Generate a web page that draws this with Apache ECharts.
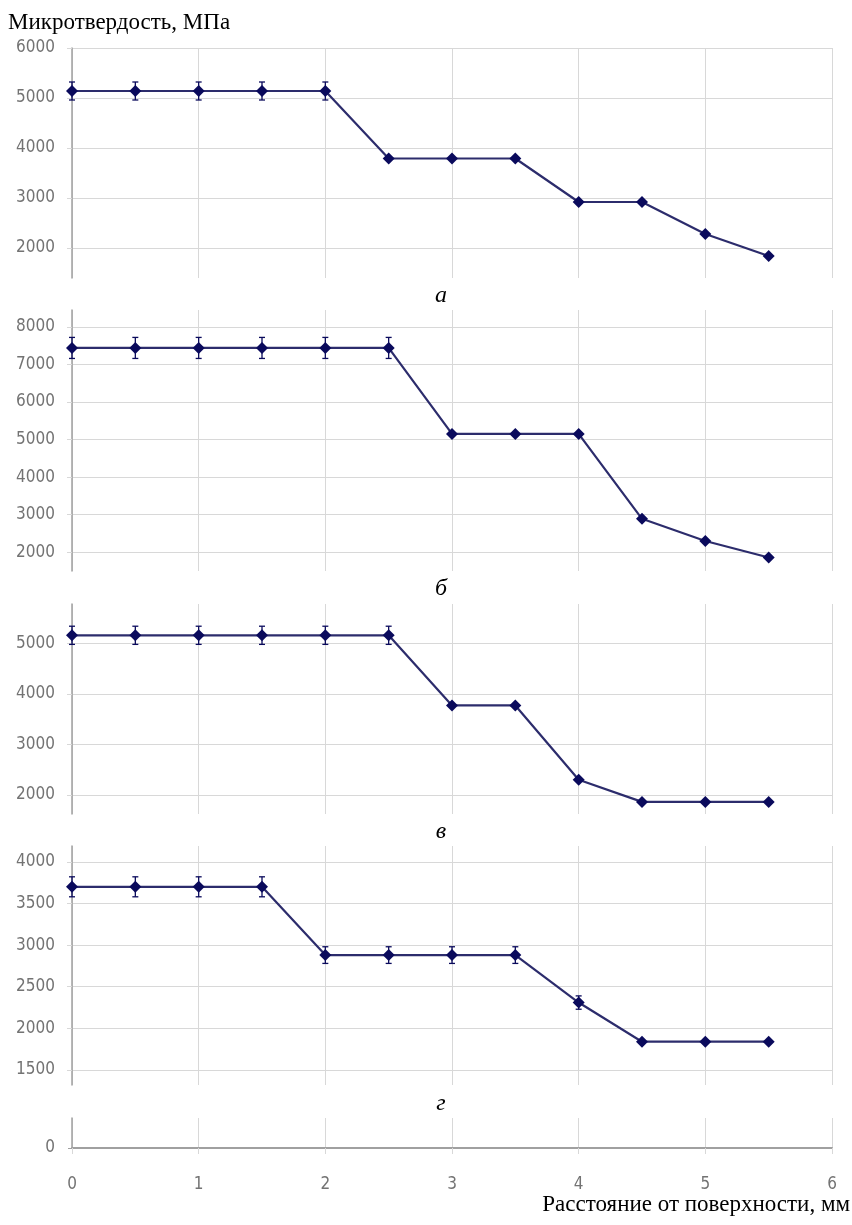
<!DOCTYPE html>
<html>
<head>
<meta charset="utf-8">
<script src="https://cdn.jsdelivr.net/npm/echarts@6/dist/echarts.min.js"></script>
<style>html,body{margin:0;padding:0;background:#fff;}#c{width:852px;height:1225px;}</style>
</head>
<body>
<div id="c"></div>
<script>
// ---- data ----
const distances = [0, 0.5, 1, 1.5, 2, 2.5, 3, 3.5, 4, 4.5, 5, 5.5];
const panelA = [5140, 5140, 5140, 5140, 5140, 3790, 3790, 3790, 2920, 2920, 2280, 1840];
const panelB = [7440, 7440, 7440, 7440, 7440, 7440, 5150, 5150, 5150, 2890, 2300, 1860];
const panelC = [5160, 5160, 5160, 5160, 5160, 5160, 3770, 3770, 2300, 1860, 1860, 1860];
const panelD = [3700, 3700, 3700, 3700, 2880, 2880, 2880, 2880, 2310, 1840, 1840, 1840];
const errA = [180, 180, 180, 180, 180, 0, 0, 0, 0, 0, 0, 0];
const errB = [280, 280, 280, 280, 280, 280, 0, 0, 0, 0, 0, 0];
const errC = [180, 180, 180, 180, 180, 180, 0, 0, 0, 0, 0, 0];
const errD = [120, 120, 120, 120, 100, 100, 100, 100, 80, 0, 0, 0];
const ticksA = [2000, 3000, 4000, 5000, 6000];
const ticksB = [2000, 3000, 4000, 5000, 6000, 7000, 8000];
const ticksC = [2000, 3000, 4000, 5000];
const ticksD = [1500, 2000, 2500, 3000, 3500, 4000];
const ticksBottom = [0];
const xTicks = [0, 1, 2, 3, 4, 5, 6];
const panelLabels = ['а', 'б', 'в', 'г'];
const yTitle = 'Микротвердость, МПа';
const xTitle = 'Расстояние от поверхности, мм';

// ---- layout / style ----
const panels = [
  { vals: panelA, err: errA, ticks: ticksA, min: 1400, max: 6000, top: 48, height: 230, labelY: 296 },
  { vals: panelB, err: errB, ticks: ticksB, min: 1500, max: 8450, top: 310, height: 261, labelY: 589 },
  { vals: panelC, err: errC, ticks: ticksC, min: 1620, max: 5780, top: 604, height: 210, labelY: 832 },
  { vals: panelD, err: errD, ticks: ticksD, min: 1320, max: 4190, top: 846, height: 239, labelY: 1104 }
];
const LEFT = 72, RIGHT = 20;
const gridColor = '#d8d8d8';
const axisColor = '#a0a0a0';
const plain = v => String(v);
const labelFont = { color: '#737373', fontSize: 17, fontFamily: '"DejaVu Sans Condensed", "Liberation Sans Narrow", "DejaVu Sans", sans-serif', formatter: plain };
const lineColor = '#2c2c6c';
const markColor = '#0a0a5c';

const grids = [], xAxes = [], yAxes = [], series = [];
panels.forEach((p, i) => {
  grids.push({ left: LEFT, right: RIGHT, top: p.top, height: p.height, outerBoundsMode: 'none', containLabel: false });
  xAxes.push({
    type: 'value', gridIndex: i, min: 0, max: 6, interval: 1,
    axisLine: { show: false }, axisTick: { show: false }, axisLabel: { show: false },
    splitLine: { show: true, lineStyle: { color: gridColor, width: 1 } }
  });
  yAxes.push({
    type: 'value', gridIndex: i, min: p.min, max: p.max,
    axisLine: { show: true, lineStyle: { color: axisColor, width: 1.5 } },
    axisTick: { show: true, length: 5, customValues: p.ticks, lineStyle: { color: gridColor } },
    axisLabel: Object.assign({ show: true, margin: 17, customValues: p.ticks }, labelFont),
    splitLine: { show: true, lineStyle: { color: gridColor, width: 1 } }
  });
  series.push({
    type: 'custom', xAxisIndex: i, yAxisIndex: i, z: 2, silent: true,
    data: distances.map((x, k) => [x, p.vals[k], p.err[k]]).filter(d => d[2] > 0),
    encode: { x: 0, y: 1 },
    renderItem: (params, api) => {
      const x = api.value(0), y = api.value(1), e = api.value(2);
      const hi = api.coord([x, y + e]), lo = api.coord([x, y - e]);
      const w = 3;
      const st = { stroke: markColor, lineWidth: 1.3 };
      return { type: 'group', children: [
        { type: 'line', shape: { x1: hi[0], y1: hi[1], x2: lo[0], y2: lo[1] }, style: st },
        { type: 'line', shape: { x1: hi[0] - w, y1: hi[1], x2: hi[0] + w, y2: hi[1] }, style: st },
        { type: 'line', shape: { x1: lo[0] - w, y1: lo[1], x2: lo[0] + w, y2: lo[1] }, style: st }
      ] };
    }
  });
  series.push({
    type: 'line', xAxisIndex: i, yAxisIndex: i, z: 3, silent: true,
    data: distances.map((x, k) => [x, p.vals[k]]),
    symbol: 'diamond', symbolSize: 12,
    lineStyle: { color: lineColor, width: 2.2 },
    itemStyle: { color: markColor }
  });
});
// bottom axis panel
grids.push({ left: LEFT, right: RIGHT, top: 1118, height: 30, outerBoundsMode: 'none', containLabel: false });
xAxes.push({
  type: 'value', gridIndex: 4, min: 0, max: 6, interval: 1,
  axisLine: { show: true, lineStyle: { color: axisColor, width: 2 } },
  axisTick: { show: true, length: 6, lineStyle: { color: gridColor } },
  axisLabel: Object.assign({ show: true, margin: 28, customValues: xTicks }, labelFont),
  splitLine: { show: true, lineStyle: { color: gridColor, width: 1 } }
});
yAxes.push({
  type: 'value', gridIndex: 4, min: 0, max: 1000,
  axisLine: { show: true, lineStyle: { color: axisColor, width: 1.5 } },
  axisTick: { show: true, length: 4, customValues: ticksBottom, lineStyle: { color: axisColor } },
  axisLabel: Object.assign({ show: true, margin: 17, customValues: ticksBottom }, labelFont),
  splitLine: { show: false }
});

const serif = '"Liberation Serif", "Times New Roman", serif';
const graphics = [
  { type: 'text', left: 8, top: 11, style: { text: yTitle, font: '23px ' + serif, fill: '#000' } },
  { type: 'text', right: 2, top: 1193, style: { text: xTitle, font: '23px ' + serif, fill: '#000' } }
];
panels.forEach((p, i) => {
  graphics.push({ type: 'text', x: 441, y: p.labelY, style: { text: panelLabels[i], font: 'italic 24px ' + serif, fill: '#000', align: 'center', verticalAlign: 'middle' } });
});

const chart = echarts.init(document.getElementById('c'), null, { renderer: 'canvas' });
chart.setOption({
  animation: false,
  backgroundColor: '#fff',
  grid: grids, xAxis: xAxes, yAxis: yAxes, series: series,
  graphic: graphics
});
</script>
</body>
</html>
